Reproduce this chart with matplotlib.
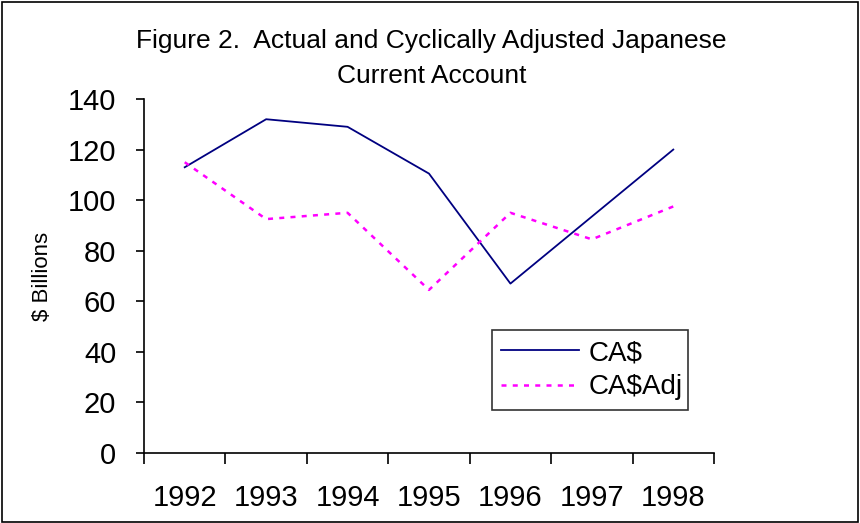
import matplotlib.pyplot as plt
from matplotlib.patches import Rectangle

plt.rcParams['font.family'] = ['Liberation Sans', 'DejaVu Sans']

# Data
years = ['1992', '1993', '1994', '1995', '1996', '1997', '1998']
ca = [113, 132, 129, 110.5, 67, 93.5, 120]
ca_adj = [115, 92.5, 95, 64.5, 95, 84.5, 97.5]

fig = plt.figure(figsize=(8.6, 5.23), dpi=100)
ax = fig.add_axes([144 / 860, 1 - 453 / 523, 570 / 860, 354 / 523])

x = range(len(years))
ax.plot(x, ca, color='#000080', linewidth=1.3, label='CA$')
ax.plot(x, ca_adj, color='#ff00ff', linewidth=1.8, linestyle=(0, (2, 2.5)), label='CA$Adj')

ax.set_xlim(-0.5, len(years) - 0.5)
ax.set_ylim(0, 140)
ax.set_yticks(range(0, 141, 20))
ax.tick_params(axis='y', labelsize=21, length=6, width=1.2, direction='out', pad=14)

# category axis: ticks at boundaries, labels at centres
ax.set_xticks([i - 0.5 for i in range(len(years) + 1)])
ax.set_xticklabels([])
ax.set_xticks(list(x), minor=True)
ax.set_xticklabels(years, minor=True)
ax.tick_params(axis='x', which='major', length=8, width=1.2, direction='out')
ax.tick_params(axis='x', which='minor', length=0, labelsize=21, pad=22)

for s in ['top', 'right']:
    ax.spines[s].set_visible(False)
for s in ['left', 'bottom']:
    ax.spines[s].set_linewidth(1.2)

ax.set_ylabel('$ Billions', fontsize=16)
ax.yaxis.set_label_coords(-0.16, 0.5)

leg = ax.legend(loc='lower left', bbox_to_anchor=(0.61, 0.121, 0.344, 0.24), mode='expand',
                fontsize=20, frameon=True, fancybox=False, edgecolor='black',
                handlelength=2.8, borderpad=0.35, labelspacing=0.3, handletextpad=0.35,
                borderaxespad=0)
leg.get_frame().set_linewidth(1.2)

fig.text(0.502, 0.888, 'Figure 2.  Actual and Cyclically Adjusted Japanese\nCurrent Account',
         ha='center', va='center', fontsize=19, linespacing=1.55)

fig.patches.append(Rectangle((0.002, 0.002), 0.996, 0.994, transform=fig.transFigure,
                             fill=False, edgecolor='black', linewidth=1.2))

fig.savefig('out.png', dpi=100)
